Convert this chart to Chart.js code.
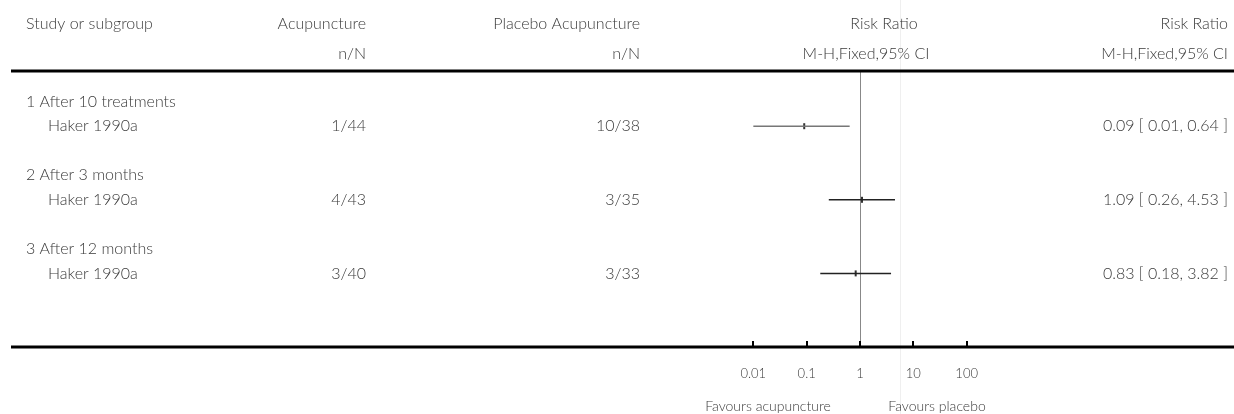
<!DOCTYPE html>
<html>
<head>
<meta charset="utf-8">
<script src="https://cdn.jsdelivr.net/npm/chart.js@4.4.1/dist/chart.umd.min.js"></script>
<style>
html, body { margin: 0; padding: 0; background: #fff; }
#wrap { width: 1234px; height: 414px; position: relative; }
</style>
</head>
<body>
<div id="wrap"><canvas id="forest"></canvas></div>
<script>
// --- data ---
const subgroups = ['1 After 10 treatments', '2 After 3 months', '3 After 12 months'];
const studies = ['Haker 1990a', 'Haker 1990a', 'Haker 1990a'];
const acuEvents = [1, 4, 3];
const acuTotal = [44, 43, 40];
const plaEvents = [10, 3, 3];
const plaTotal = [38, 35, 33];
const riskRatio = [0.09, 1.09, 0.83];
const ciLow = [0.01, 0.26, 0.18];
const ciHigh = [0.64, 4.53, 3.82];
const tickValues = [0.01, 0.1, 1, 10, 100];
const subgroupRows = [1, 4, 7];
const studyRows = [2, 5, 8];

const FONT = "Lato, 'Open Sans', sans-serif";
const TEXT = '#3a3a3a';
const ciColors = ['#777', '#222', '#222'];

// CI lines, one dataset per study
const ciSets = studies.map((s, i) => ({
    label: s,
    data: [{ x: ciLow[i], y: studyRows[i] }, { x: ciHigh[i], y: studyRows[i] }],
    showLine: true,
    borderColor: ciColors[i],
    borderWidth: 1.5,
    pointRadius: 0
}));

const estimateSet = {
    label: 'RR',
    data: riskRatio.map((v, i) => ({ x: v, y: studyRows[i] })),
    showLine: false,
    pointStyle: 'line',
    rotation: 90,
    pointRadius: 3,
    borderWidth: 2,
    borderColor: '#333'
};

// table text + rules
const forestDecor = {
    id: 'forestDecor',
    beforeDatasetsDraw(chart) {
        const ctx = chart.ctx;
        const xs = chart.scales.x;
        const area = chart.chartArea;
        ctx.save();
        // faint guide line
        ctx.strokeStyle = '#efefef';
        ctx.lineWidth = 1;
        ctx.beginPath();
        ctx.moveTo(900.5, 0);
        ctx.lineTo(900.5, 414);
        ctx.stroke();
        // line of no effect
        const x1 = Math.round(xs.getPixelForValue(1)) + 0.5;
        ctx.strokeStyle = '#888';
        ctx.beginPath();
        ctx.moveTo(x1, area.top);
        ctx.lineTo(x1, area.bottom);
        ctx.stroke();
        // header and axis rules
        ctx.strokeStyle = '#000';
        ctx.lineWidth = 3;
        ctx.beginPath();
        ctx.moveTo(11, area.top);
        ctx.lineTo(1234, area.top);
        ctx.moveTo(11, area.bottom);
        ctx.lineTo(1234, area.bottom);
        ctx.stroke();
        // tick marks pointing up
        ctx.lineWidth = 2;
        ctx.beginPath();
        tickValues.forEach(v => {
            const px = Math.round(xs.getPixelForValue(v));
            ctx.moveTo(px, area.bottom - 6);
            ctx.lineTo(px, area.bottom);
        });
        ctx.stroke();
        ctx.restore();
    },
    afterDraw(chart) {
        const ctx = chart.ctx;
        const ys = chart.scales.y;
        ctx.save();
        ctx.fillStyle = TEXT;
        ctx.font = '300 16px ' + FONT;
        ctx.textBaseline = 'middle';

        const put = (txt, x, y, align) => {
            ctx.textAlign = align;
            ctx.fillText(txt, x, y);
        };

        // header
        put('Study or subgroup', 26, 24, 'left');
        put('Acupuncture', 366, 24, 'right');
        put('n/N', 366, 54, 'right');
        put('Placebo Acupuncture', 640, 24, 'right');
        put('n/N', 640, 54, 'right');
        put('Risk Ratio', 884, 24, 'center');
        put('M-H,Fixed,95% CI', 866, 54, 'center');
        put('Risk Ratio', 1228, 24, 'right');
        put('M-H,Fixed,95% CI', 1228, 54, 'right');

        // body
        subgroups.forEach((g, i) => {
            put(g, 26, ys.getPixelForValue(subgroupRows[i]), 'left');
        });
        studies.forEach((s, i) => {
            const y = ys.getPixelForValue(studyRows[i]);
            put(s, 48, y, 'left');
            put(acuEvents[i] + '/' + acuTotal[i], 366, y, 'right');
            put(plaEvents[i] + '/' + plaTotal[i], 640, y, 'right');
            put(riskRatio[i].toFixed(2) + ' [ ' + ciLow[i].toFixed(2) + ', ' + ciHigh[i].toFixed(2) + ' ]', 1228, y, 'right');
        });

        // favours labels
        ctx.font = '300 14px ' + FONT;
        put('Favours acupuncture', 768, 406, 'center');
        put('Favours placebo', 937, 406, 'center');
        ctx.restore();
    }
};

const chart = new Chart(document.getElementById('forest'), {
    type: 'scatter',
    data: { datasets: [...ciSets, estimateSet] },
    options: {
        responsive: true,
        maintainAspectRatio: false,
        animation: false,
        layout: { padding: { left: 700, right: 214, top: 71, bottom: 0 } },
        scales: {
            x: {
                type: 'logarithmic',
                position: 'bottom',
                min: 0.001,
                max: 1000,
                afterBuildTicks: s => { s.ticks = tickValues.map(v => ({ value: v })); },
                afterFit: s => { s.height = 67; },
                grid: { display: false, drawTicks: false },
                border: { display: false },
                ticks: {
                    autoSkip: false,
                    maxRotation: 0,
                    padding: 19,
                    color: TEXT,
                    font: { family: FONT, size: 13, weight: '300' },
                    callback: v => String(v)
                }
            },
            y: {
                type: 'linear',
                display: false,
                reverse: true,
                min: -0.25,
                max: 11
            }
        },
        plugins: {
            legend: { display: false },
            tooltip: { enabled: false }
        }
    },
    plugins: [forestDecor]
});
</script>
</body>
</html>
